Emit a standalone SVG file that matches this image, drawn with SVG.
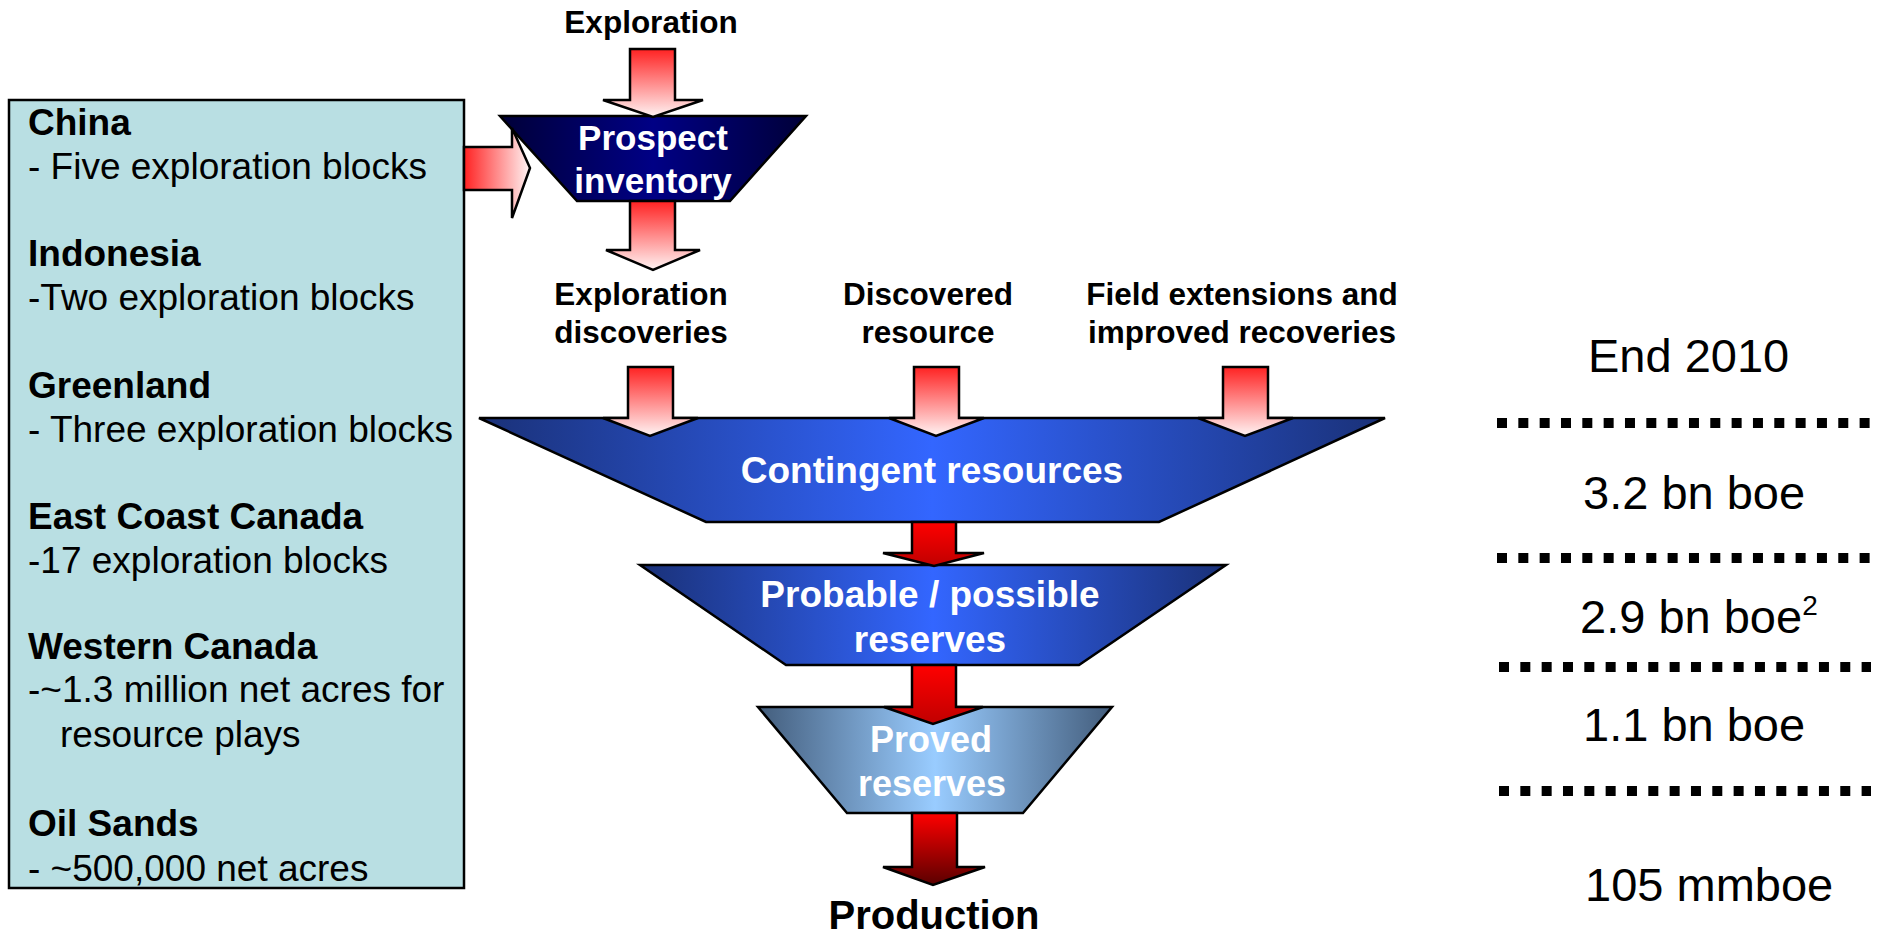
<svg xmlns="http://www.w3.org/2000/svg" width="1883" height="936" viewBox="0 0 1883 936">
<defs>
<linearGradient id="pinkV" x1="0" y1="0" x2="0" y2="1"><stop offset="0" stop-color="#ff2222"/><stop offset="1" stop-color="#fff4f4"/></linearGradient>
<linearGradient id="pinkH" x1="0" y1="0" x2="1" y2="0"><stop offset="0" stop-color="#ff2222"/><stop offset="1" stop-color="#fff4f4"/></linearGradient>
<linearGradient id="redV" x1="0" y1="0" x2="0" y2="1"><stop offset="0" stop-color="#ff0000"/><stop offset="1" stop-color="#c00000"/></linearGradient>
<linearGradient id="redDark" x1="0" y1="0" x2="0" y2="1"><stop offset="0" stop-color="#ff0000"/><stop offset="1" stop-color="#5a0000"/></linearGradient>
<linearGradient id="navy" x1="0" y1="0" x2="1" y2="0"><stop offset="0" stop-color="#000038"/><stop offset="0.5" stop-color="#000085"/><stop offset="1" stop-color="#000038"/></linearGradient>
<linearGradient id="blue" x1="0" y1="0" x2="1" y2="0"><stop offset="0" stop-color="#1a3178"/><stop offset="0.5" stop-color="#3366ff"/><stop offset="1" stop-color="#1a3178"/></linearGradient>
<linearGradient id="steel" x1="0" y1="0" x2="1" y2="0"><stop offset="0" stop-color="#435d7c"/><stop offset="0.5" stop-color="#99ccff"/><stop offset="1" stop-color="#435d7c"/></linearGradient>
<style>
text{font-family:"Liberation Sans",Arial,sans-serif}
.bl{font-weight:bold;font-size:37px;fill:#000}
.rg{font-size:37px;fill:#000}
.lab{font-weight:bold;font-size:31.5px;fill:#000;text-anchor:middle}
.wt{font-weight:bold;fill:#fff;text-anchor:middle}
.num{font-size:47px;fill:#000}
.shape{stroke:#000;stroke-width:2.5;stroke-linejoin:miter}
.dots{stroke:#000;stroke-width:10;stroke-dasharray:10 11.33;fill:none}
</style>
</defs>

<g id="regions">
<rect x="9" y="100" width="455" height="788" fill="#b9dfe3" stroke="#000" stroke-width="2.5"/>
<text class="bl" x="28" y="135">China</text>
<text class="rg" x="28" y="179">- Five exploration blocks</text>
<text class="bl" x="28" y="266">Indonesia</text>
<text class="rg" x="28" y="310">-Two exploration blocks</text>
<text class="bl" x="28" y="398">Greenland</text>
<text class="rg" x="28" y="442">- Three exploration blocks</text>
<text class="bl" x="28" y="529">East Coast Canada</text>
<text class="rg" x="28" y="573">-17 exploration blocks</text>
<text class="bl" x="28" y="659">Western Canada</text>
<text class="rg" x="28" y="702">-~1.3 million net acres for</text>
<text class="rg" x="60" y="747">resource plays</text>
<text class="bl" x="28" y="836">Oil Sands</text>
<text class="rg" x="28" y="881">- ~500,000 net acres</text>
</g>

<g id="exploration-label">
<text class="lab" x="651" y="33">Exploration</text>
</g>

<g id="prospect">
<path class="shape" d="M500,116 L806,116 L730,201 L577,201 Z" fill="url(#navy)"/>
<text class="wt" x="653" y="150" font-size="35">Prospect</text>
<text class="wt" x="653" y="193" font-size="35">inventory</text>
</g>

<g id="contingent">
<path class="shape" d="M479,418 L1385,418 L1159,522 L706,522 Z" fill="url(#blue)"/>
<text class="wt" x="932" y="483" font-size="37">Contingent resources</text>
</g>

<g id="probable">
<path class="shape" d="M640,565 L1226,565 L1079,665 L786,665 Z" fill="url(#blue)"/>
<text class="wt" x="930" y="607" font-size="37">Probable / possible</text>
<text class="wt" x="930" y="652" font-size="37">reserves</text>
</g>

<g id="proved">
<path class="shape" d="M758,707 L1112,707 L1023,813 L847,813 Z" fill="url(#steel)"/>
<text class="wt" x="931" y="752" font-size="36">Proved</text>
<text class="wt" x="932" y="796" font-size="36">reserves</text>
</g>

<g id="labels">
<text class="lab" x="641" y="305">Exploration</text>
<text class="lab" x="641" y="343">discoveries</text>
<text class="lab" x="928" y="305">Discovered</text>
<text class="lab" x="928" y="343">resource</text>
<text class="lab" x="1242" y="305">Field extensions and</text>
<text class="lab" x="1242" y="343">improved recoveries</text>
</g>

<g id="production">
<text x="934" y="929" font-size="40" font-weight="bold" text-anchor="middle" fill="#000">Production</text>
</g>

<g id="connectors">
<path class="shape" d="M630,49 L675,49 L675,100 L703,100 L653,117 L603,100 L630,100 Z" fill="url(#pinkV)"/>
<path class="shape" d="M464,147 L512,147 L512,128 L530,168 L512,218 L512,190 L464,190 Z" fill="url(#pinkH)"/>
<path class="shape" d="M630,201 L675,201 L675,250 L700,250 L653,270 L606,250 L630,250 Z" fill="url(#pinkV)"/>
<path class="shape" d="M628,367 L673,367 L673,418 L698,418 L650,436 L603,418 L628,418 Z" fill="url(#pinkV)"/>
<path class="shape" d="M914,367 L959,367 L959,418 L984,418 L936,436 L889,418 L914,418 Z" fill="url(#pinkV)"/>
<path class="shape" d="M1223,367 L1268,367 L1268,418 L1293,418 L1245,436 L1198,418 L1223,418 Z" fill="url(#pinkV)"/>
<path class="shape" d="M912,522 L956,522 L956,553 L984,553 L934,566 L883,553 L912,553 Z" fill="url(#redV)"/>
<path class="shape" d="M912,665 L956,665 L956,707 L983,707 L933,724 L884,707 L912,707 Z" fill="url(#redV)"/>
<path class="shape" d="M912,813 L957,813 L957,867 L985,867 L933,885 L883,867 L912,867 Z" fill="url(#redDark)"/>
</g>

<g id="figures">
<text class="num" x="1588" y="372">End 2010</text>
<line class="dots" x1="1497" y1="423" x2="1871" y2="423"/>
<text class="num" x="1583" y="509">3.2 bn boe</text>
<line class="dots" x1="1497" y1="558" x2="1871" y2="558"/>
<text class="num" x="1580" y="633">2.9 bn boe<tspan font-size="28" dy="-18">2</tspan></text>
<line class="dots" x1="1499" y1="667" x2="1871" y2="667"/>
<text class="num" x="1583" y="741">1.1 bn boe</text>
<line class="dots" x1="1499" y1="791" x2="1871" y2="791"/>
<text class="num" x="1585" y="901">105 mmboe</text>
</g>
</svg>
